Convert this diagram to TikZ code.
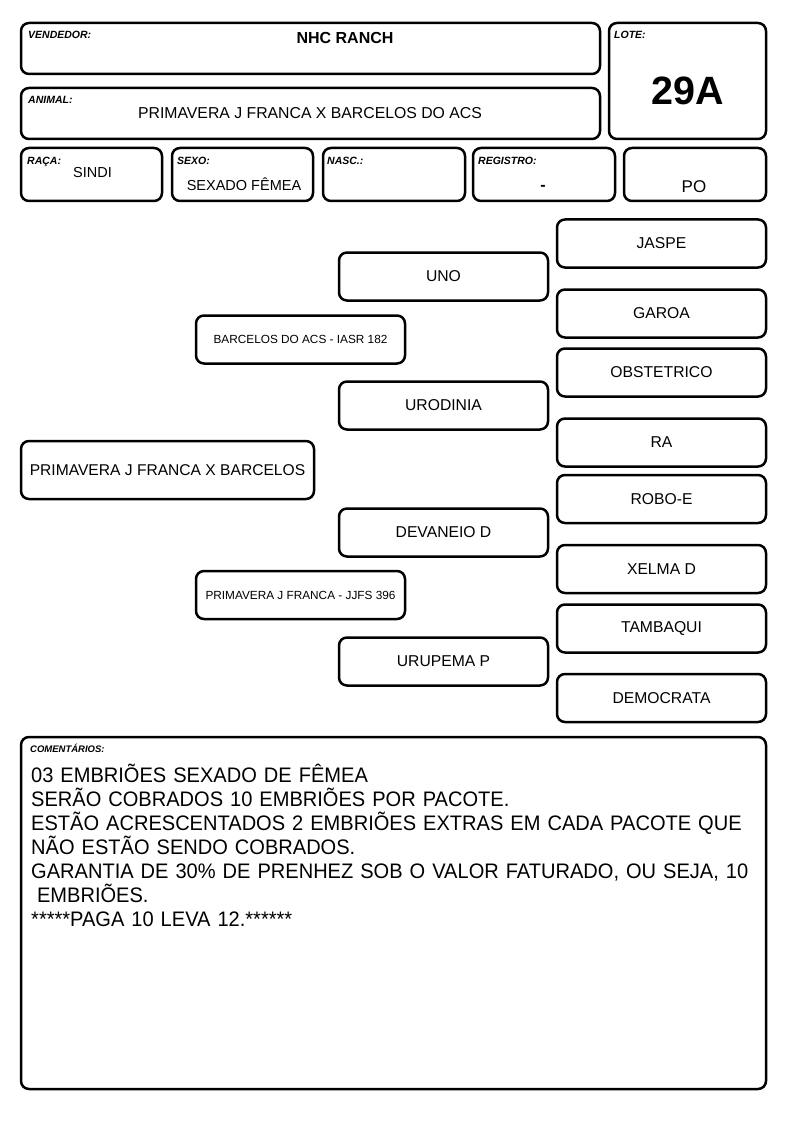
\documentclass[tikz,border=0pt]{standalone}
\usepackage{fontspec}
\setmainfont{Liberation Sans}
\newfontfamily\condfont[FakeStretch=0.955]{Liberation Sans}
\newcommand\mytightlines{\lineskiplimit=-30pt\relax\lineskip=0pt\relax}
\begin{document}
\begin{tikzpicture}[x=1pt,y=-1pt,
  box/.style={draw=black, line width=2.5pt, rounded corners=8pt, fill=white, inner sep=0pt, align=center},
  lbl/.style={anchor=base west, inner sep=0pt, font=\fontsize{10.5}{12}\selectfont\bfseries\itshape},
  txt/.style={inner sep=0pt, font=\fontsize{14.5}{17}\selectfont},
  ped/.style={box, minimum width=209pt, minimum height=48pt, font=\fontsize{15.7}{19}\selectfont},
  gped/.style={box, minimum width=209pt, minimum height=48pt, font=\fontsize{11.8}{14}\selectfont}
]
\useasboundingbox[fill=white] (0,0) rectangle (794,1123);

% header
\node[box, minimum width=579pt, minimum height=51pt] (vend) at (310.5,48.5) {};
\node[lbl] (vendl) at (28,39) {VENDEDOR:};
\node[inner sep=0pt, font=\fontsize{16}{19}\selectfont\bfseries] (vendt) at (345,37.5) {NHC RANCH};

\node[box, minimum width=157pt, minimum height=116pt] (lote) at (687.5,81) {};
\node[lbl] (lotel) at (614,39) {LOTE:};
\node[inner sep=0pt, font=\fontsize{39.5}{44}\selectfont\bfseries] (lotet) at (688,91) {29A};

\node[box, minimum width=579pt, minimum height=51pt] (animal) at (310.5,113.5) {};
\node[lbl] (animall) at (28,104) {ANIMAL:};
\node[inner sep=0pt, font=\fontsize{15.8}{19}\selectfont] (animalt) at (310,113) {PRIMAVERA J FRANCA X BARCELOS DO ACS};

\node[box, minimum width=141pt, minimum height=53pt] (raca) at (91.5,174.5) {};
\node[lbl] (racal) at (27,164.5) {RAÇA:};
\node[txt] (racat) at (92.5,172.5) {SINDI};

\node[box, minimum width=141pt, minimum height=53pt] (sexo) at (242.5,174.5) {};
\node[lbl] (sexol) at (177,164.5) {SEXO:};
\node[txt] (sexot) at (244,184) {SEXADO FÊMEA};

\node[box, minimum width=142pt, minimum height=53pt] (nasc) at (394,174.5) {};
\node[lbl] (nascl) at (327,164.5) {NASC.:};

\node[box, minimum width=142pt, minimum height=53pt] (reg) at (544,174.5) {};
\node[lbl] (regl) at (478,164.5) {REGISTRO:};
\node[inner sep=0pt, font=\fontsize{16}{19}\selectfont\bfseries] (regt) at (543,188) {-};

\node[box, minimum width=142pt, minimum height=53pt] (po) at (695,174.5) {};
\node[inner sep=0pt, font=\fontsize{17}{20}\selectfont] (pot) at (694,187) {PO};

% pedigree
\node[ped] (jaspe) at (661.5,243.5) {JASPE};
\node[ped] (uno) at (443.5,276.5) {UNO};
\node[ped] (garoa) at (661.5,313.5) {GAROA};
\node[gped] (barcelos) at (300.5,339.5) {BARCELOS DO ACS - IASR 182};
\node[ped] (obst) at (661.5,372.5) {OBSTETRICO};
\node[ped] (urodinia) at (443.5,405.5) {URODINIA};
\node[ped] (ra) at (661.5,442.5) {RA};
\node[box, minimum width=293pt, minimum height=58pt, font=\fontsize{15.6}{19}\selectfont] (main) at (167.5,470) {PRIMAVERA J FRANCA X BARCELOS};
\node[ped] (robo) at (661.5,499) {ROBO-E};
\node[ped] (devaneio) at (443.5,532.5) {DEVANEIO D};
\node[ped] (xelma) at (661.5,569) {XELMA D};
\node[gped] (primavera) at (300.5,595) {PRIMAVERA J FRANCA - JJFS 396};
\node[ped] (tambaqui) at (661.5,628.5) {TAMBAQUI};
\node[ped] (urupema) at (443.5,661.5) {URUPEMA P};
\node[ped] (democrata) at (661.5,698) {DEMOCRATA};

% comments
\node[box, minimum width=745pt, minimum height=352pt] (coment) at (393.5,913) {};
\node[lbl, font=\fontsize{9.5}{11}\selectfont\bfseries\itshape] (comentl) at (30,752) {COMENTÁRIOS:};
\node[anchor=north west, inner sep=0pt, align=left, text width=735pt,
      font=\condfont\fontsize{21}{23.9}\selectfont] (comentt) at (31,764.3)
{\mytightlines\strut 03 EMBRIÕES SEXADO DE FÊMEA\\
SERÃO COBRADOS 10 EMBRIÕES POR PACOTE.\\
ESTÃO ACRESCENTADOS 2 EMBRIÕES EXTRAS EM CADA PACOTE QUE\\
NÃO ESTÃO SENDO COBRADOS.\\
GARANTIA DE 30\% DE PRENHEZ SOB O VALOR FATURADO, OU SEJA, 10\\
\hspace*{0.28em}EMBRIÕES.\\
******PAGA 10 LEVA 12.******};
\end{tikzpicture}
\end{document}
